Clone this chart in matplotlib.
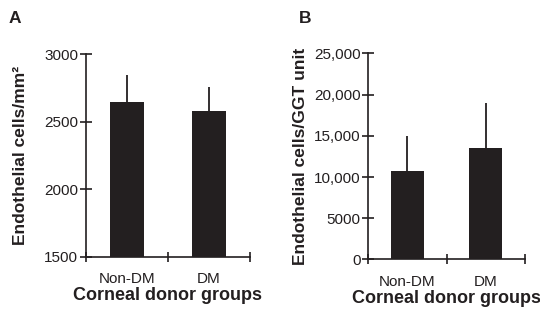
import matplotlib.pyplot as plt

plt.rcParams['font.family'] = ['Liberation Sans', 'DejaVu Sans']

ink = '#231f20'

groups = ['Non-DM', 'DM']
density_mean = [2646, 2580]
density_sd = [200, 180]
density_ticks = [1500, 2000, 2500, 3000]
density_ticklabels = ['1500', '2000', '2500', '3000']

ggt_mean = [10680, 13545]
ggt_sd = [4250, 5460]
ggt_ticks = [0, 5000, 10000, 15000, 20000, 25000]
ggt_ticklabels = ['0', '5000', '10,000', '15,000', '20,000', '25,000']


def draw_panel(ax, means, sds, ticks, ticklabels, ylabel, ypad):
    pos = [0.5, 1.5]
    ax.bar(pos, [m - ticks[0] for m in means], bottom=ticks[0], width=0.42,
           color=ink, zorder=2)
    ax.vlines(pos, means, [m + s for m, s in zip(means, sds)],
              color=ink, lw=1.3, zorder=1)
    ax.set_xlim(0, 2)
    ax.set_ylim(ticks[0], ticks[-1])
    for s in ['top', 'right']:
        ax.spines[s].set_visible(False)
    for s in ['left', 'bottom']:
        ax.spines[s].set_linewidth(1.2)
        ax.spines[s].set_color(ink)
    ax.set_yticks(ticks)
    ax.set_yticklabels(ticklabels)
    ax.set_xticks([0, 1, 2])
    ax.set_xticklabels([])
    ax.set_xticks(pos, minor=True)
    ax.set_xticklabels(groups, minor=True)
    ax.tick_params(axis='y', direction='inout', length=8, width=1.2,
                   color=ink, labelcolor=ink, labelsize=11, pad=1.5)
    ax.tick_params(axis='x', which='major', direction='inout', length=7,
                   width=1.2, color=ink)
    ax.tick_params(axis='x', which='minor', length=0, pad=11,
                   labelcolor=ink, labelsize=11)
    ax.set_xlabel('Corneal donor groups', fontsize=13, fontweight='bold',
                  color=ink, labelpad=1)
    ax.set_ylabel(ylabel, fontsize=12.5, fontweight='bold', color=ink,
                  labelpad=ypad)


fig = plt.figure(figsize=(5.4, 3.16), dpi=100)
ax1 = fig.add_axes([0.159, 0.188, 0.304, 0.640])
ax2 = fig.add_axes([0.682, 0.179, 0.290, 0.652])

draw_panel(ax1, density_mean, density_sd, density_ticks, density_ticklabels,
           'Endothelial cells/mm²', 12)
draw_panel(ax2, ggt_mean, ggt_sd, ggt_ticks, ggt_ticklabels,
           'Endothelial cells/GGT unit', 4)

fig.text(9 / 540, 1 - 23 / 316, 'A', fontsize=12.5, fontweight='bold', color=ink)
fig.text(299 / 540, 1 - 23 / 316, 'B', fontsize=12.5, fontweight='bold', color=ink)

fig.savefig('out.png', dpi=100)
